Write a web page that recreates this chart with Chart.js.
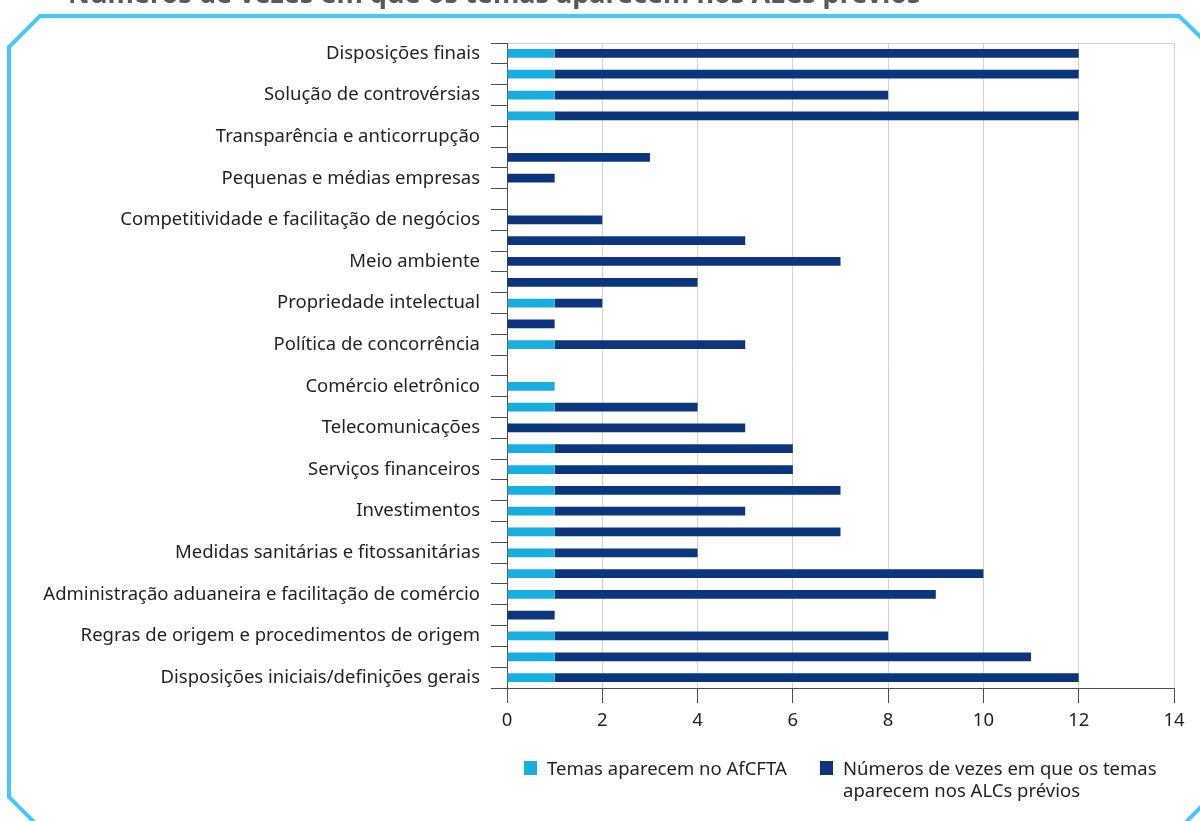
<!DOCTYPE html>
<html>
<head>
<meta charset="utf-8">
<script src="https://cdn.jsdelivr.net/npm/chart.js@4/dist/chart.umd.min.js"></script>
<style>
  html, body { margin: 0; padding: 0; background: #fff; }
  #wrap { position: relative; width: 1200px; height: 821px; overflow: hidden; }
  #chart { position: absolute; left: 0; top: 0; }
  .legend { position: absolute; font-family: "Noto Sans", sans-serif; font-size: 18.5px; color: #231f20; line-height: 22px; }
  .legend .box { position: absolute; left: 0; top: 4px; width: 13px; height: 14px; }
  .legend .txt { position: absolute; left: 23px; top: 0; white-space: nowrap; }
</style>
</head>
<body>
<div id="wrap">
  <canvas id="chart" width="1200" height="821"></canvas>
  <div id="legend"></div>
</div>
<script>
// chart title (cut at the top in the original)
var chartTitle = 'Números de vezes em que os temas aparecem nos ALCs prévios';

// 31 rows top to bottom, only every other row is labelled in the original
var categories = [
    'Disposições finais', '',
    'Solução de controvérsias', '',
    'Transparência e anticorrupção', '',
    'Pequenas e médias empresas', '',
    'Competitividade e facilitação de negócios', '',
    'Meio ambiente', '',
    'Propriedade intelectual', '',
    'Política de concorrência', '',
    'Comércio eletrônico', '',
    'Telecomunicações', '',
    'Serviços financeiros', '',
    'Investimentos', '',
    'Medidas sanitárias e fitossanitárias', '',
    'Administração aduaneira e facilitação de comércio', '',
    'Regras de origem e procedimentos de origem', '',
    'Disposições iniciais/definições gerais'
];

// series names
var seriesNames = [
    ['Temas aparecem no AfCFTA'],
    ['Números de vezes em que os temas', 'aparecem nos ALCs prévios']
];

// light segment: theme appears in AfCFTA
var afcftaValues = [1, 1, 1, 1, 0, 0, 0, 0, 0, 0, 0, 0, 1, 0, 1, 0,
                    1, 1, 0, 1, 1, 1, 1, 1, 1, 1, 1, 0, 1, 1, 1];
// dark segment: times the theme appears in previous FTAs (stacked after the light one)
var previousValues = [11, 11, 7, 11, 0, 3, 1, 0, 2, 5, 7, 4, 1, 1, 4, 0,
                      0, 3, 5, 5, 5, 6, 4, 6, 3, 9, 8, 1, 7, 10, 11];

// x axis ticks
var xMin = 0;
var xMax = 14;
var xStep = 2;

var colors = ['#17afe0', '#0b367e'];
var fontFamily = '"Noto Sans", sans-serif';
var fontSize = 18.5;
var textColor = '#231f20';
var axisColor = '#4d4d4d';

/* draws the chamfered cyan frame and the cut title */
var framePlugin = {
    id: 'frame',
    beforeDraw: function(chart) {
        var ctx = chart.ctx;
        ctx.save();
        ctx.strokeStyle = '#45c8f4';
        ctx.lineWidth = 4;
        ctx.lineJoin = 'miter';
        ctx.beginPath();
        ctx.moveTo(40, 16);
        ctx.lineTo(1179, 16);
        ctx.lineTo(1211, 47);
        ctx.lineTo(1211, 797);
        ctx.lineTo(1180, 828);
        ctx.lineTo(40, 828);
        ctx.lineTo(9, 797);
        ctx.lineTo(9, 47);
        ctx.closePath();
        ctx.stroke();
        // title
        ctx.fillStyle = '#58595b';
        ctx.font = 'bold 27px ' + fontFamily;
        ctx.textBaseline = 'alphabetic';
        ctx.textAlign = 'left';
        ctx.fillText(chartTitle, 68, 3);
        ctx.restore();
    }
};

var chartData = {
    labels: categories,
    datasets: [
        {
            label: seriesNames[0].join(' '),
            data: afcftaValues,
            backgroundColor: colors[0],
            borderWidth: 0
        },
        {
            label: seriesNames[1].join(' '),
            data: previousValues,
            backgroundColor: colors[1],
            borderWidth: 0
        }
    ]
};

var chart = new Chart(document.getElementById('chart'), {
    type: 'bar',
    data: chartData,
    options: {
        indexAxis: 'y',
        responsive: false,
        animation: false,
        devicePixelRatio: 1,
        datasets: {
            bar: { categoryPercentage: 1, barPercentage: 0.42 }
        },
        layout: {
            padding: { left: 0, top: 43, right: 26, bottom: 0 }
        },
        plugins: {
            legend: { display: false },
            tooltip: { enabled: false },
            title: { display: false }
        },
        scales: {
            x: {
                type: 'linear',
                stacked: true,
                min: xMin,
                max: xMax,
                ticks: {
                    stepSize: xStep,
                    padding: 7,
                    color: textColor,
                    font: { family: fontFamily, size: fontSize }
                },
                grid: {
                    color: '#d2d2d2',
                    tickColor: axisColor,
                    tickLength: 15,
                    lineWidth: 1
                },
                border: { color: axisColor, width: 1 },
                afterFit: function(scale) {
                    scale.height = 821 - 688;
                }
            },
            y: {
                type: 'category',
                stacked: true,
                offset: true,
                ticks: {
                    autoSkip: false,
                    padding: 11,
                    color: textColor,
                    font: { family: fontFamily, size: fontSize }
                },
                grid: {
                    offset: true,
                    // only the top edge of the plot gets a line
                    color: function(context) {
                        return context.index === 0 ? '#d2d2d2' : 'rgba(0,0,0,0)';
                    },
                    tickColor: axisColor,
                    tickLength: 16,
                    lineWidth: 1
                },
                border: { color: axisColor, width: 1 },
                afterFit: function(scale) {
                    scale.width = 507;
                }
            }
        }
    },
    plugins: [framePlugin]
});

// html legend built from the datasets
var legendEl = document.getElementById('legend');
var legendPos = [[524, 757], [820, 757]];
chart.data.datasets.forEach(function(ds, i) {
    var item = document.createElement('div');
    item.className = 'legend';
    item.style.left = legendPos[i][0] + 'px';
    item.style.top = legendPos[i][1] + 'px';
    var box = document.createElement('div');
    box.className = 'box';
    box.style.background = ds.backgroundColor;
    var txt = document.createElement('div');
    txt.className = 'txt';
    txt.innerHTML = seriesNames[i].join('<br>');
    item.appendChild(box);
    item.appendChild(txt);
    legendEl.appendChild(item);
});
</script>
</body>
</html>
